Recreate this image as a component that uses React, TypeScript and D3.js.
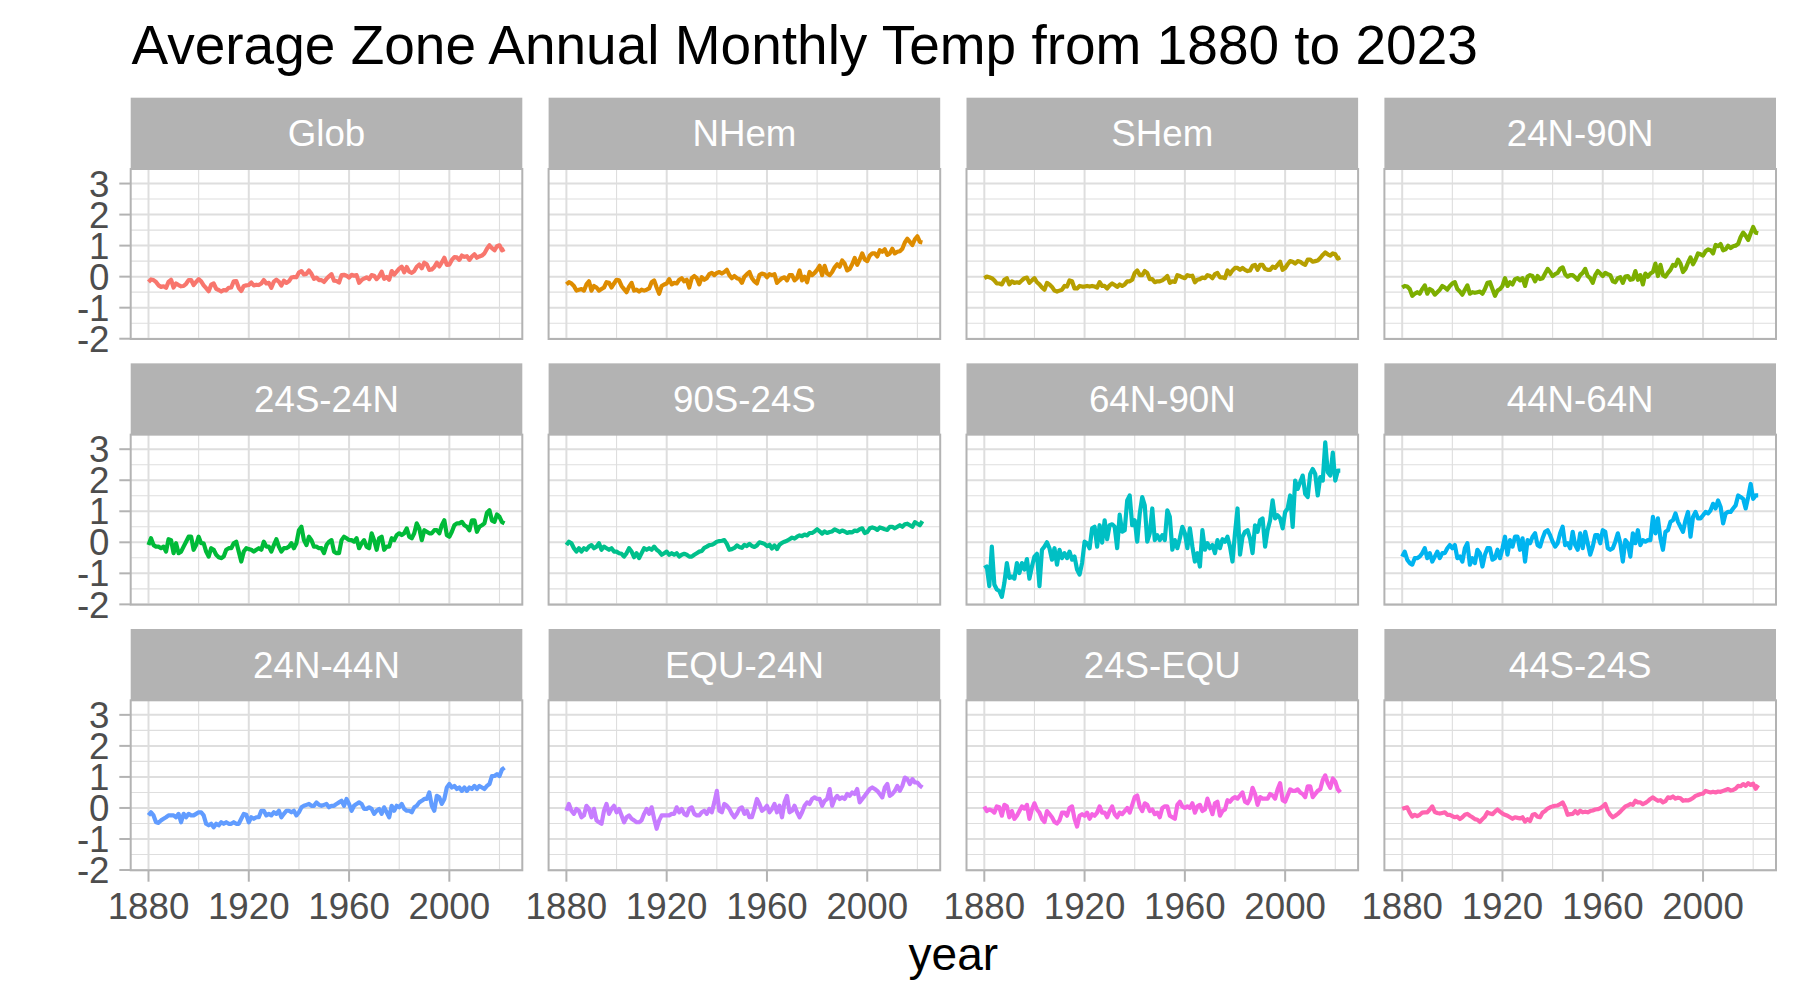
import * as d3 from "d3";

// zones shown as facets, in facet order
const zones = ["Glob", "NHem", "SHem", "24N-90N", "24S-24N", "90S-24S", "64N-90N", "44N-64N", "24N-44N", "EQU-24N", "24S-EQU", "44S-24S"];
const zoneColors = ["#F8766D", "#DE8C00", "#B79F00", "#7CAE00", "#00BA38", "#00C08B", "#00BFC4", "#00B4F0", "#619CFF", "#C77CFF", "#F564E3", "#FF64B0"];

const firstYear = 1880;
const lastYear = 2022;
const xTicks = [1880, 1920, 1960, 2000];
const yTicks = [-2, -1, 0, 1, 2, 3];

// annual anomalies, 1880..2022 (one row per decade)
const glob = [
  -0.17, -0.09, -0.11, -0.17, -0.28, -0.33, -0.31, -0.36, -0.17, -0.10,
  -0.35, -0.22, -0.27, -0.31, -0.30, -0.23, -0.11, -0.11, -0.27, -0.17,
  -0.08, -0.15, -0.28, -0.37, -0.47, -0.26, -0.22, -0.39, -0.43, -0.48,
  -0.43, -0.44, -0.36, -0.35, -0.15, -0.14, -0.36, -0.46, -0.30, -0.28,
  -0.27, -0.19, -0.28, -0.26, -0.27, -0.22, -0.11, -0.22, -0.20, -0.36,
  -0.16, -0.10, -0.16, -0.29, -0.13, -0.20, -0.15, -0.03, -0.01, -0.02,
  0.13, 0.18, 0.07, 0.09, 0.20, 0.09, -0.07, -0.03, -0.11, -0.11,
  -0.17, -0.07, 0.01, 0.08, -0.13, -0.14, -0.19, 0.05, 0.06, 0.03,
  -0.03, 0.06, 0.03, 0.05, -0.20, -0.11, -0.06, -0.02, -0.08, 0.05,
  0.03, -0.08, 0.01, 0.16, -0.07, -0.01, -0.10, 0.18, 0.07, 0.16,
  0.26, 0.32, 0.14, 0.31, 0.16, 0.12, 0.18, 0.32, 0.39, 0.27,
  0.45, 0.40, 0.22, 0.23, 0.31, 0.45, 0.33, 0.46, 0.61, 0.38,
  0.39, 0.54, 0.63, 0.62, 0.54, 0.68, 0.64, 0.66, 0.54, 0.65,
  0.72, 0.61, 0.65, 0.68, 0.75, 0.90, 1.01, 0.92, 0.85, 0.98,
  1.01, 0.85, 0.89,
];

const nHem = [
  -0.25, -0.18, -0.22, -0.30, -0.45, -0.42, -0.40, -0.45, -0.25, -0.15,
  -0.45, -0.30, -0.35, -0.45, -0.40, -0.35, -0.18, -0.20, -0.35, -0.22,
  -0.10, -0.12, -0.30, -0.40, -0.50, -0.32, -0.20, -0.45, -0.42, -0.48,
  -0.42, -0.45, -0.42, -0.38, -0.18, -0.12, -0.35, -0.55, -0.30, -0.25,
  -0.22, -0.08, -0.25, -0.20, -0.22, -0.10, -0.05, -0.15, -0.10, -0.35,
  -0.05, 0.02, -0.05, -0.25, -0.02, -0.10, -0.05, 0.08, 0.12, 0.05,
  0.12, 0.15, 0.10, 0.15, 0.22, 0.05, -0.05, 0.02, -0.05, -0.08,
  -0.20, 0.00, 0.08, 0.15, -0.05, -0.15, -0.22, 0.05, 0.10, 0.08,
  -0.02, 0.08, 0.05, 0.08, -0.20, -0.12, -0.05, -0.02, -0.12, 0.05,
  0.05, -0.12, -0.05, 0.20, -0.12, 0.00, -0.18, 0.15, 0.05, 0.12,
  0.22, 0.35, 0.05, 0.35, 0.10, 0.05, 0.15, 0.30, 0.40, 0.32,
  0.52, 0.42, 0.20, 0.25, 0.40, 0.60, 0.38, 0.55, 0.75, 0.55,
  0.50, 0.68, 0.75, 0.75, 0.65, 0.85, 0.80, 0.88, 0.70, 0.75,
  0.90, 0.75, 0.80, 0.82, 0.90, 1.10, 1.22, 1.12, 1.02, 1.20,
  1.30, 1.12, 1.10,
];

const sHem = [
  -0.05, 0.00, -0.02, -0.05, -0.12, -0.22, -0.22, -0.25, -0.10, -0.05,
  -0.25, -0.15, -0.20, -0.18, -0.20, -0.12, -0.05, -0.03, -0.20, -0.12,
  -0.05, -0.18, -0.25, -0.35, -0.42, -0.20, -0.25, -0.33, -0.45, -0.48,
  -0.45, -0.42, -0.30, -0.32, -0.12, -0.15, -0.38, -0.38, -0.30, -0.32,
  -0.32, -0.30, -0.32, -0.30, -0.32, -0.35, -0.18, -0.30, -0.30, -0.38,
  -0.28, -0.22, -0.27, -0.33, -0.25, -0.30, -0.25, -0.15, -0.15, -0.10,
  0.12, 0.20, 0.05, 0.05, 0.18, 0.12, -0.08, -0.08, -0.18, -0.15,
  -0.15, -0.12, -0.06, 0.02, -0.20, -0.15, -0.17, 0.05, 0.02, -0.02,
  -0.05, 0.05, 0.02, 0.03, -0.18, -0.10, -0.08, -0.03, -0.05, 0.05,
  0.02, -0.05, 0.08, 0.12, -0.02, -0.02, -0.05, 0.20, 0.08, 0.20,
  0.28, 0.28, 0.22, 0.28, 0.22, 0.18, 0.20, 0.35, 0.38, 0.22,
  0.38, 0.38, 0.25, 0.22, 0.22, 0.32, 0.28, 0.38, 0.48, 0.22,
  0.28, 0.40, 0.50, 0.48, 0.42, 0.50, 0.48, 0.42, 0.38, 0.55,
  0.55, 0.48, 0.50, 0.52, 0.60, 0.70, 0.78, 0.72, 0.68, 0.75,
  0.72, 0.58, 0.62,
];

const n24to90 = [
  -0.35, -0.30, -0.32, -0.40, -0.62, -0.55, -0.50, -0.55, -0.40, -0.28,
  -0.55, -0.40, -0.45, -0.58, -0.50, -0.42, -0.30, -0.35, -0.42, -0.30,
  -0.22, -0.18, -0.40, -0.48, -0.58, -0.42, -0.28, -0.55, -0.50, -0.52,
  -0.50, -0.48, -0.55, -0.40, -0.20, -0.18, -0.40, -0.62, -0.45, -0.40,
  -0.30, -0.05, -0.30, -0.18, -0.25, -0.08, -0.05, -0.12, -0.05, -0.30,
  0.00, 0.05, 0.02, -0.15, 0.02, -0.08, -0.05, 0.10, 0.25, 0.15,
  0.02, 0.08, 0.12, 0.25, 0.30, 0.08, 0.00, 0.05, 0.05, -0.02,
  -0.10, 0.05, 0.12, 0.25, 0.02, -0.05, -0.20, 0.05, 0.18, 0.10,
  0.02, 0.12, 0.08, 0.05, -0.15, -0.18, -0.05, -0.02, -0.20, 0.00,
  0.02, -0.10, -0.08, 0.18, -0.10, 0.05, -0.25, 0.10, 0.00, 0.10,
  0.15, 0.42, 0.02, 0.38, 0.05, 0.00, 0.12, 0.22, 0.38, 0.35,
  0.55, 0.42, 0.15, 0.25, 0.45, 0.62, 0.40, 0.55, 0.75, 0.72,
  0.68, 0.82, 0.88, 0.85, 0.75, 1.02, 0.98, 1.05, 0.85, 0.88,
  1.00, 0.92, 0.98, 1.00, 1.05, 1.28, 1.42, 1.32, 1.18, 1.40,
  1.60, 1.42, 1.40,
];

const s24to24n = [
  -0.09, 0.13, -0.09, -0.14, -0.14, -0.19, -0.14, -0.30, 0.10, 0.07,
  -0.35, -0.03, -0.35, -0.30, -0.14, 0.02, 0.18, 0.18, -0.24, -0.09,
  0.18, -0.03, -0.03, -0.30, -0.46, -0.19, -0.24, -0.40, -0.48, -0.51,
  -0.46, -0.24, -0.19, -0.19, -0.03, 0.02, -0.30, -0.62, -0.30, -0.19,
  -0.22, -0.24, -0.30, -0.24, -0.19, -0.24, 0.02, -0.14, -0.14, -0.30,
  -0.09, 0.10, -0.14, -0.30, -0.19, -0.19, -0.14, -0.03, -0.19, -0.03,
  0.39, 0.50, 0.07, -0.09, 0.18, 0.07, -0.14, -0.14, -0.19, -0.19,
  -0.35, -0.09, 0.02, 0.07, -0.30, -0.35, -0.35, 0.07, 0.18, 0.13,
  0.07, 0.07, 0.02, 0.13, -0.19, -0.03, 0.07, -0.14, -0.19, 0.29,
  0.07, -0.24, 0.13, 0.18, -0.24, -0.14, -0.14, 0.13, 0.07, 0.23,
  0.29, 0.23, 0.29, 0.45, 0.18, 0.13, 0.29, 0.61, 0.45, 0.07,
  0.39, 0.34, 0.29, 0.29, 0.39, 0.39, 0.29, 0.55, 0.71, 0.23,
  0.18, 0.34, 0.55, 0.61, 0.61, 0.66, 0.55, 0.50, 0.39, 0.71,
  0.71, 0.34, 0.50, 0.55, 0.61, 0.95, 1.03, 0.70, 0.66, 0.90,
  0.82, 0.65, 0.61,
];

const s90to24 = [
  -0.09, 0.02, -0.03, -0.19, -0.30, -0.19, -0.30, -0.19, -0.24, -0.14,
  -0.09, -0.19, -0.14, -0.03, -0.24, -0.14, -0.19, -0.24, -0.19, -0.30,
  -0.30, -0.35, -0.37, -0.46, -0.35, -0.19, -0.30, -0.48, -0.35, -0.51,
  -0.35, -0.19, -0.24, -0.19, -0.24, -0.14, -0.24, -0.30, -0.40, -0.35,
  -0.30, -0.40, -0.35, -0.40, -0.35, -0.46, -0.40, -0.37, -0.40, -0.46,
  -0.46, -0.40, -0.35, -0.30, -0.28, -0.18, -0.14, -0.09, -0.08, -0.04,
  0.02, 0.04, 0.05, 0.07, -0.05, -0.24, -0.22, -0.18, -0.10, -0.15,
  -0.18, -0.08, -0.12, -0.05, -0.12, -0.15, -0.10, 0.00, -0.02, -0.05,
  -0.12, -0.08, -0.20, -0.10, -0.22, -0.08, -0.02, 0.02, 0.05, 0.10,
  0.15, 0.12, 0.18, 0.22, 0.20, 0.25, 0.22, 0.30, 0.30, 0.35,
  0.42, 0.35, 0.28, 0.35, 0.30, 0.33, 0.35, 0.42, 0.38, 0.33,
  0.38, 0.35, 0.30, 0.33, 0.32, 0.38, 0.36, 0.42, 0.45, 0.30,
  0.33, 0.45, 0.48, 0.45, 0.40, 0.48, 0.45, 0.42, 0.40, 0.50,
  0.50, 0.45, 0.50, 0.55, 0.50, 0.58, 0.60, 0.55, 0.50, 0.65,
  0.60, 0.55, 0.68,
];

const n64to90 = [
  -0.83, -0.78, -1.41, -0.14, -1.36, -1.52, -1.57, -1.76, -1.31, -0.67,
  -1.15, -1.10, -1.17, -0.67, -0.99, -0.67, -0.88, -0.54, -1.17, -0.78,
  -0.46, -0.37, -1.41, -0.24, -0.14, 0.00, -0.19, -0.56, -0.19, -0.72,
  -0.24, -0.51, -0.35, -0.51, -0.30, -0.56, -0.46, -0.88, -1.04, -0.67,
  0.02, -0.03, -0.19, 0.45, 0.50, -0.14, 0.55, -0.01, 0.71, 0.10,
  0.55, 0.58, 0.50, -0.19, 0.89, 0.34, 0.39, 1.35, 1.51, 0.55,
  0.71, 0.02, 0.93, 1.46, 1.19, 0.02, 0.29, 1.09, 0.07, 0.23,
  0.07, 0.23, 0.07, 1.03, 0.82, -0.24, 0.07, -0.19, 0.13, 0.50,
  0.29, -0.19, 0.45, -0.14, -0.62, -0.35, -0.78, 0.39, -0.24, -0.03,
  -0.19, -0.09, -0.35, 0.07, -0.19, 0.10, 0.02, 0.18, -0.14, -0.62,
  0.29, 1.09, -0.40, 0.18, 0.34, 0.39, 0.13, -0.35, 0.55, 0.34,
  0.71, 0.77, -0.14, 0.39, 0.71, 1.35, 0.77, 0.87, 0.77, 0.45,
  0.98, 1.09, 1.51, 0.50, 1.99, 1.72, 1.94, 2.15, 1.56, 1.46,
  2.20, 2.36, 2.20, 1.51, 2.10, 1.99, 3.22, 2.26, 2.15, 2.89,
  1.99, 2.31, 2.31,
];

const n44to64 = [
  -0.46, -0.30, -0.56, -0.67, -0.72, -0.51, -0.51, -0.46, -0.35, -0.19,
  -0.51, -0.35, -0.62, -0.46, -0.30, -0.51, -0.35, -0.35, -0.19, -0.09,
  -0.19, -0.09, -0.51, -0.46, -0.62, -0.19, -0.03, -0.72, -0.51, -0.67,
  -0.24, -0.35, -0.78, -0.40, -0.19, -0.19, -0.56, -0.51, -0.24, -0.51,
  -0.19, 0.18, -0.40, 0.07, -0.14, 0.18, 0.18, -0.24, 0.13, -0.62,
  0.07, -0.03, 0.18, 0.29, -0.09, -0.14, 0.13, 0.34, 0.39, 0.23,
  0.02, -0.14, -0.03, 0.29, 0.50, -0.09, -0.03, -0.19, 0.34, -0.09,
  -0.24, 0.29, -0.19, 0.34, -0.03, -0.40, -0.14, 0.23, 0.23, -0.03,
  0.39, 0.34, -0.19, -0.24, -0.19, 0.02, 0.29, -0.03, -0.62, 0.07,
  -0.03, -0.46, 0.29, -0.03, 0.39, -0.09, 0.07, 0.02, 0.07, 0.07,
  0.82, 0.29, 0.77, 0.13, -0.24, 0.34, 0.39, 0.66, 0.71, 0.93,
  0.66, 0.50, 0.34, 0.71, 0.98, 0.18, 0.82, 0.98, 0.77, 0.77,
  0.87, 0.98, 0.93, 1.03, 1.24, 1.09, 1.35, 1.14, 0.61, 0.93,
  0.98, 0.98, 1.09, 1.19, 1.51, 1.46, 1.40, 1.09, 1.46, 1.88,
  1.40, 1.51, 1.51,
];

const n24to44 = [
  -0.24, -0.14, -0.24, -0.46, -0.48, -0.40, -0.35, -0.30, -0.24, -0.24,
  -0.24, -0.30, -0.19, -0.46, -0.19, -0.30, -0.19, -0.24, -0.24, -0.19,
  -0.14, -0.14, -0.24, -0.51, -0.56, -0.51, -0.62, -0.51, -0.56, -0.46,
  -0.51, -0.46, -0.51, -0.51, -0.46, -0.51, -0.51, -0.35, -0.19, -0.22,
  -0.46, -0.30, -0.35, -0.30, -0.30, -0.09, -0.09, -0.24, -0.19, -0.24,
  -0.14, -0.19, -0.09, -0.30, -0.19, -0.09, -0.09, -0.14, -0.09, -0.24,
  -0.14, 0.02, 0.07, 0.10, 0.13, 0.07, 0.07, 0.18, 0.10, 0.07,
  0.10, 0.13, 0.02, 0.07, 0.07, 0.13, 0.18, 0.23, 0.07, 0.29,
  0.13, -0.09, 0.07, 0.13, 0.18, 0.13, -0.03, -0.03, 0.02, -0.03,
  -0.19, -0.09, -0.03, -0.19, 0.02, -0.14, -0.30, 0.07, -0.09, 0.07,
  0.02, 0.13, -0.03, -0.09, -0.09, -0.14, 0.02, 0.07, 0.18, 0.23,
  0.29, 0.29, 0.50, 0.07, -0.09, 0.39, 0.34, 0.13, 0.29, 0.66,
  0.77, 0.66, 0.71, 0.61, 0.66, 0.55, 0.66, 0.55, 0.66, 0.61,
  0.71, 0.61, 0.71, 0.66, 0.61, 0.71, 0.77, 1.03, 1.03, 1.09,
  1.03, 1.24, 1.30,
];

const equTo24n = [
  -0.09, 0.13, -0.09, -0.19, -0.03, -0.09, -0.30, -0.24, 0.07, -0.03,
  -0.30, -0.03, -0.40, -0.46, -0.51, -0.09, 0.13, -0.19, -0.03, 0.07,
  -0.14, -0.03, -0.24, -0.46, -0.30, -0.24, -0.35, -0.40, -0.46, -0.46,
  -0.40, -0.19, -0.03, -0.19, 0.02, -0.35, -0.67, -0.40, -0.24, -0.24,
  -0.24, -0.24, -0.19, -0.19, 0.02, -0.14, -0.03, -0.19, -0.24, -0.03,
  0.02, -0.19, -0.24, -0.24, -0.14, -0.09, -0.19, -0.03, -0.14, 0.18,
  0.55, -0.09, -0.14, 0.13, 0.07, -0.03, -0.19, -0.30, -0.19, -0.03,
  0.02, -0.19, -0.09, -0.30, -0.30, -0.03, 0.29, 0.13, -0.09, -0.03,
  0.07, -0.14, -0.03, 0.13, -0.14, 0.07, -0.30, 0.18, 0.39, -0.14,
  -0.09, 0.07, -0.14, -0.30, -0.14, 0.07, 0.18, 0.13, 0.29, 0.34,
  0.29, 0.29, 0.07, 0.23, 0.29, 0.61, 0.07, 0.29, 0.39, 0.29,
  0.34, 0.29, 0.45, 0.39, 0.50, 0.45, 0.61, 0.18, 0.29, 0.39,
  0.50, 0.61, 0.66, 0.61, 0.55, 0.45, 0.34, 0.66, 0.77, 0.39,
  0.45, 0.55, 0.71, 0.55, 0.71, 0.98, 0.93, 0.77, 0.93, 0.82,
  0.82, 0.72, 0.66,
];

const s24toEqu = [
  0.05, -0.10, -0.05, -0.08, -0.15, 0.05, 0.02, -0.25, 0.10, 0.05,
  -0.30, -0.10, -0.35, -0.25, -0.10, 0.05, -0.02, 0.10, -0.35, -0.05,
  0.15, -0.05, -0.15, -0.35, -0.45, -0.10, -0.20, -0.30, -0.45, -0.50,
  -0.40, -0.15, -0.15, -0.25, 0.00, 0.05, -0.35, -0.60, -0.25, -0.20,
  -0.25, -0.15, -0.35, -0.20, -0.25, -0.15, 0.05, -0.15, -0.15, -0.30,
  -0.10, 0.05, -0.20, -0.30, -0.15, -0.20, -0.10, 0.00, -0.15, 0.10,
  0.35, 0.40, 0.05, -0.10, 0.15, 0.10, -0.10, -0.05, -0.20, -0.15,
  -0.30, 0.00, 0.05, 0.05, -0.25, -0.30, -0.35, 0.10, 0.20, 0.05,
  0.00, 0.05, 0.00, 0.15, -0.15, 0.05, 0.10, -0.10, -0.05, 0.30,
  0.05, -0.20, 0.15, 0.20, -0.25, -0.10, -0.05, 0.25, 0.20, 0.30,
  0.35, 0.30, 0.40, 0.50, 0.20, 0.15, 0.30, 0.65, 0.45, 0.10,
  0.35, 0.30, 0.30, 0.30, 0.45, 0.40, 0.30, 0.60, 0.80, 0.25,
  0.20, 0.40, 0.60, 0.55, 0.55, 0.60, 0.50, 0.45, 0.35, 0.70,
  0.70, 0.35, 0.45, 0.55, 0.60, 0.90, 1.05, 0.80, 0.65, 0.95,
  0.85, 0.60, 0.50,
];

const s44to24 = [
  -0.03, 0.00, 0.02, -0.15, -0.28, -0.22, -0.26, -0.22, -0.15, -0.14,
  -0.14, -0.05, 0.05, -0.13, -0.16, -0.18, -0.16, -0.14, -0.22, -0.22,
  -0.26, -0.30, -0.28, -0.36, -0.30, -0.22, -0.19, -0.25, -0.30, -0.36,
  -0.38, -0.45, -0.36, -0.28, -0.14, -0.18, -0.20, -0.12, -0.05, -0.12,
  -0.18, -0.22, -0.25, -0.30, -0.35, -0.30, -0.32, -0.34, -0.30, -0.44,
  -0.36, -0.42, -0.22, -0.20, -0.28, -0.30, -0.15, -0.10, -0.02, 0.02,
  0.05, 0.07, 0.08, 0.12, 0.18, 0.02, -0.22, -0.20, -0.19, -0.10,
  -0.18, -0.09, -0.14, -0.12, -0.14, -0.10, -0.08, -0.05, -0.04, -0.01,
  0.05, 0.13, -0.09, -0.22, -0.30, -0.25, -0.19, -0.12, -0.03, 0.05,
  0.08, 0.13, 0.10, 0.23, 0.18, 0.18, 0.12, 0.16, 0.22, 0.29,
  0.34, 0.28, 0.23, 0.25, 0.18, 0.22, 0.34, 0.32, 0.37, 0.30,
  0.33, 0.31, 0.23, 0.25, 0.24, 0.27, 0.32, 0.39, 0.42, 0.45,
  0.46, 0.55, 0.52, 0.50, 0.52, 0.50, 0.53, 0.52, 0.55, 0.58,
  0.61, 0.56, 0.58, 0.62, 0.71, 0.70, 0.77, 0.71, 0.80, 0.74,
  0.78, 0.62, 0.74,
];

const zoneSeries = [glob, nHem, sHem, n24to90, s24to24n, s90to24, n64to90, n44to64, n24to44, equTo24n, s24toEqu, s44to24];

const W = 1800;
const H = 1004;
const FONT = "'Liberation Sans', Arial, Helvetica, sans-serif";
const nCols = 4;
const panelLeft0 = 130.7;
const panelW = 391.6;
const colStep = 417.9;
const stripTop0 = 97.7;
const stripH = 71.3;
const panelH = 170;
const rowStep = 265.65;
const axisFs = 36.7;

const years = d3.range(firstYear, lastYear + 1);

export default function App() {
  const xPad = (lastYear - firstYear) * 0.05;
  const x = d3.scaleLinear().domain([firstYear - xPad, lastYear + xPad]).range([0, panelW]);

  const all = zoneSeries.flat();
  const [lo, hi] = d3.extent(all) as [number, number];
  const yPad = (hi - lo) * 0.05;
  const y = d3.scaleLinear().domain([lo - yPad, hi + yPad]).range([panelH, 0]);

  const [xd0, xd1] = x.domain();
  const [yd0, yd1] = y.domain();
  const xStep = xTicks[1] - xTicks[0];
  const xMinor = xTicks.map((t) => t + xStep / 2).filter((t) => t >= xd0 && t <= xd1);
  const yMinor = d3.pairs(yTicks).map(([a, b]) => (a + b) / 2).filter((t) => t >= yd0 && t <= yd1);
  const yMajor = yTicks.filter((t) => t >= yd0 && t <= yd1);

  const line = d3
    .line<number>()
    .x((_, i) => x(years[i]))
    .y((d) => y(d));

  const nRows = Math.ceil(zones.length / nCols);

  return (
    <svg
      width={W}
      height={H}
      viewBox={`0 0 ${W} ${H}`}
      style={{ position: "absolute", left: 0, top: 0, background: "#fff" }}
      fontFamily={FONT}
    >
      <rect width={W} height={H} fill="#fff" />
      <text x={131.5} y={63.5} fontSize={55} fill="#000">
        Average Zone Annual Monthly Temp from 1880 to 2023
      </text>

      {zones.map((zone, k) => {
        const col = k % nCols;
        const row = Math.floor(k / nCols);
        const left = panelLeft0 + col * colStep;
        const stripTop = stripTop0 + row * rowStep;
        const top = stripTop + stripH;
        const bottom = top + panelH;
        return (
          <g key={zone}>
            {/* strip */}
            <rect x={left} y={stripTop} width={panelW} height={stripH} fill="#B3B3B3" />
            <text
              x={left + panelW / 2}
              y={stripTop + stripH / 2 + axisFs * 0.358}
              textAnchor="middle"
              fontSize={axisFs}
              fill="#fff"
            >
              {zone}
            </text>

            <g transform={`translate(${left},${top})`}>
              <clipPath id={`clip-${k}`}>
                <rect width={panelW} height={panelH} />
              </clipPath>
              {/* minor grid */}
              {yMinor.map((t) => (
                <line key={`ym${t}`} x1={0} x2={panelW} y1={y(t)} y2={y(t)} stroke="#DEDEDE" strokeWidth={1.1} />
              ))}
              {xMinor.map((t) => (
                <line key={`xm${t}`} x1={x(t)} x2={x(t)} y1={0} y2={panelH} stroke="#DEDEDE" strokeWidth={1.1} />
              ))}
              {/* major grid */}
              {yMajor.map((t) => (
                <line key={`y${t}`} x1={0} x2={panelW} y1={y(t)} y2={y(t)} stroke="#DEDEDE" strokeWidth={2} />
              ))}
              {xTicks.map((t) => (
                <line key={`x${t}`} x1={x(t)} x2={x(t)} y1={0} y2={panelH} stroke="#DEDEDE" strokeWidth={2} />
              ))}
              <path
                d={line(zoneSeries[k]) ?? undefined}
                fill="none"
                stroke={zoneColors[k]}
                strokeWidth={4.2}
                strokeLinejoin="round"
                clipPath={`url(#clip-${k})`}
              />
              <rect width={panelW} height={panelH} fill="none" stroke="#B3B3B3" strokeWidth={2} />
            </g>

            {/* y axis on first column */}
            {col === 0 &&
              yMajor.map((t) => (
                <g key={`yt${t}`}>
                  <line x1={left - 11.4} x2={left} y1={top + y(t)} y2={top + y(t)} stroke="#B3B3B3" strokeWidth={2} />
                  <text
                    x={left - 21.2}
                    y={top + y(t) + axisFs * 0.358}
                    textAnchor="end"
                    fontSize={axisFs}
                    fill="#4D4D4D"
                  >
                    {t}
                  </text>
                </g>
              ))}

            {/* x axis on last row */}
            {row === nRows - 1 &&
              xTicks.map((t) => (
                <g key={`xt${t}`}>
                  <line x1={left + x(t)} x2={left + x(t)} y1={bottom} y2={bottom + 11.4} stroke="#B3B3B3" strokeWidth={2} />
                  <text x={left + x(t)} y={bottom + 49} textAnchor="middle" fontSize={axisFs} fill="#4D4D4D">
                    {t}
                  </text>
                </g>
              ))}
          </g>
        );
      })}

      <text
        x={(panelLeft0 + panelLeft0 + (nCols - 1) * colStep + panelW) / 2}
        y={970}
        textAnchor="middle"
        fontSize={46}
        fill="#000"
      >
        year
      </text>
    </svg>
  );
}
